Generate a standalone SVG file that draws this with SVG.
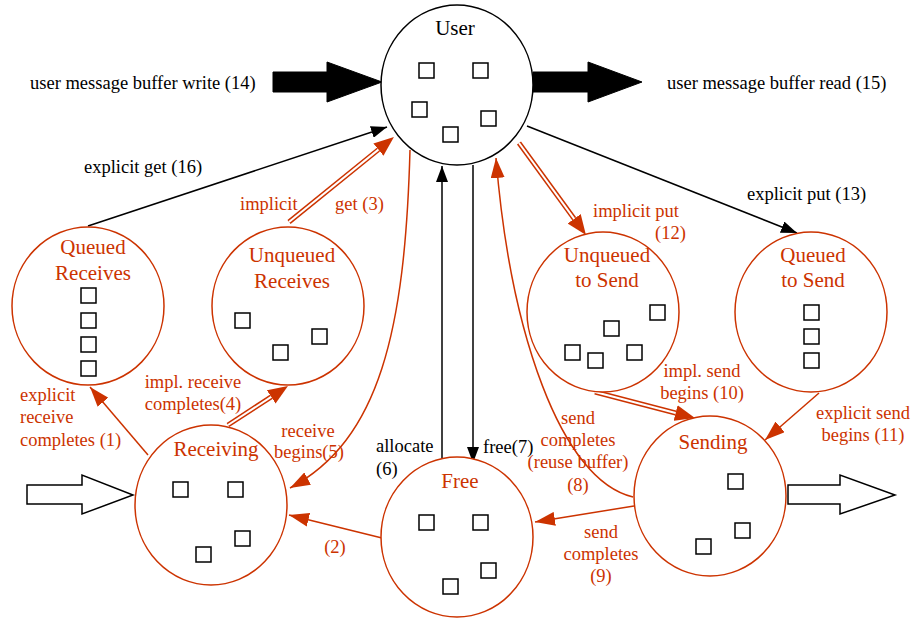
<svg xmlns="http://www.w3.org/2000/svg" width="914" height="619" viewBox="0 0 914 619">
<style>
.bg{fill:#ffffff}
.node{fill:#ffffff;stroke:#cc3300;stroke-width:1.5}
.unode{fill:#ffffff;stroke:#000000;stroke-width:1.5}
.sq{fill:#ffffff;stroke:#000000;stroke-width:1.5}
.nl{font-family:"Liberation Serif","Times New Roman",serif;font-size:21px;fill:#cc3300;text-anchor:middle}
.ul{font-family:"Liberation Serif","Times New Roman",serif;font-size:21px;fill:#000000;text-anchor:middle}
.bt{font-family:"Liberation Serif","Times New Roman",serif;font-size:18.5px;fill:#000000}
.rt{font-family:"Liberation Serif","Times New Roman",serif;font-size:18.5px;fill:#cc3300}
.mid{text-anchor:middle}
.rl{fill:none;stroke:#cc3300;stroke-width:1.5}
.bl{fill:none;stroke:#000000;stroke-width:1.5}
.dbl{fill:none;stroke:#cc3300;stroke-width:5}
.dbw{fill:none;stroke:#ffffff;stroke-width:2}
.big{fill:#000000;stroke:#000000}
.hollow{fill:#ffffff;stroke:#000000;stroke-width:1.5}
</style>
<defs>
<marker id="ra" markerUnits="userSpaceOnUse" markerWidth="20" markerHeight="14" refX="20" refY="7" orient="auto">
<path d="M0,0 L20,7 L0,14 z" fill="#cc3300"/>
</marker>
<marker id="rab" markerUnits="userSpaceOnUse" markerWidth="20" markerHeight="16" refX="0" refY="8" orient="auto">
<path d="M0,0 L20,8 L0,16 z" fill="#cc3300"/>
</marker>
<marker id="ba" markerUnits="userSpaceOnUse" markerWidth="16" markerHeight="12" refX="16" refY="6" orient="auto">
<path d="M0,0 L16,6 L0,12 z" fill="#000000"/>
</marker>
</defs>
<rect class="bg" x="0" y="0" width="914" height="619"/>

<g id="connectors">
<!-- big black arrows -->
<polygon class="big" points="273,72 327,72 327,62 382,82 327,102 327,92 273,92"/>
<polygon class="big" points="533,72 588,72 588,62 642,82 588,102 588,92 533,92"/>
<!-- hollow arrows -->
<polygon class="hollow" points="27,485 82,485 82,475 133,495 82,514 82,504 27,504"/>
<polygon class="hollow" points="788,485 840,485 840,475 895,495 840,514 840,504 788,504"/>
<!-- explicit get (16) -->
<line class="bl" x1="88" y1="226" x2="387" y2="127" marker-end="url(#ba)"/>
<!-- explicit put (13) -->
<line class="bl" x1="527" y1="126" x2="797" y2="233" marker-end="url(#ba)"/>
<!-- allocate (6) -->
<line class="bl" x1="442" y1="458" x2="442" y2="166" marker-end="url(#ba)"/>
<!-- free (7) -->
<line class="bl" x1="473" y1="165" x2="473" y2="463" marker-end="url(#ba)"/>
<!-- implicit get (3) double -->
<line class="dbl" x1="289" y1="222" x2="378.4" y2="149.6" marker-end="url(#rab)"/>
<line class="dbw" x1="289" y1="222" x2="378.4" y2="149.6"/>
<!-- impl receive completes (4) double -->
<line class="dbl" x1="228" y1="425" x2="271.2" y2="396.9" marker-end="url(#rab)"/>
<line class="dbw" x1="228" y1="425" x2="271.2" y2="396.9"/>
<!-- implicit put (12) double -->
<line class="dbl" x1="519" y1="143" x2="574.2" y2="218.8" marker-end="url(#rab)"/>
<line class="dbw" x1="519" y1="143" x2="574.2" y2="218.8"/>
<!-- impl send begins (10) double -->
<line class="dbl" x1="595" y1="392" x2="675.6" y2="413" marker-end="url(#rab)"/>
<line class="dbw" x1="595" y1="392" x2="675.6" y2="413"/>
<!-- explicit receive completes (1) -->
<line class="rl" x1="148" y1="455" x2="90" y2="387" marker-end="url(#ra)"/>
<!-- (2) -->
<line class="rl" x1="382" y1="538" x2="289" y2="515" marker-end="url(#ra)"/>
<!-- send completes (9) -->
<line class="rl" x1="634" y1="506" x2="535" y2="522" marker-end="url(#ra)"/>
<!-- explicit send begins (11) -->
<line class="rl" x1="819" y1="393" x2="765" y2="440" marker-end="url(#ra)"/>
<!-- receive begins (5) -->
<path class="rl" d="M410,150 C405,330 380,440 290,488" marker-end="url(#ra)"/>
<!-- send completes reuse buffer (8) -->
<path class="rl" d="M633,497 C560,480 510,330 496,158" marker-end="url(#ra)"/>
</g>

<g id="user">
<ellipse class="unode" cx="457" cy="85" rx="76" ry="80"/>
<text class="ul" x="455" y="35">User</text>
<rect class="sq" x="419" y="63" width="15" height="15"/>
<rect class="sq" x="473" y="63" width="15" height="15"/>
<rect class="sq" x="412" y="102" width="15" height="15"/>
<rect class="sq" x="481" y="111" width="15" height="15"/>
<rect class="sq" x="443" y="127" width="15" height="15"/>
</g>

<g id="queued-receives">
<ellipse class="node" cx="88" cy="306" rx="76" ry="79"/>
<text class="nl" x="93" y="254">Queued</text>
<text class="nl" x="93" y="280">Receives</text>
<rect class="sq" x="81" y="288" width="15" height="15"/>
<rect class="sq" x="81" y="313" width="15" height="15"/>
<rect class="sq" x="81" y="337" width="15" height="15"/>
<rect class="sq" x="81" y="361" width="15" height="15"/>
</g>

<g id="unqueued-receives">
<ellipse class="node" cx="288" cy="306" rx="76" ry="79"/>
<text class="nl" x="292" y="262">Unqueued</text>
<text class="nl" x="292" y="288">Receives</text>
<rect class="sq" x="235" y="313" width="15" height="15"/>
<rect class="sq" x="273" y="345" width="15" height="15"/>
<rect class="sq" x="312" y="329" width="15" height="15"/>
</g>

<g id="unqueued-to-send">
<ellipse class="node" cx="603" cy="312" rx="76" ry="80"/>
<text class="nl" x="607" y="262">Unqueued</text>
<text class="nl" x="607" y="287">to Send</text>
<rect class="sq" x="650" y="305" width="15" height="15"/>
<rect class="sq" x="604" y="321" width="15" height="15"/>
<rect class="sq" x="565" y="345" width="15" height="15"/>
<rect class="sq" x="588" y="353" width="15" height="15"/>
<rect class="sq" x="627" y="345" width="15" height="15"/>
</g>

<g id="queued-to-send">
<ellipse class="node" cx="811" cy="312" rx="76" ry="80"/>
<text class="nl" x="813" y="262">Queued</text>
<text class="nl" x="813" y="287">to Send</text>
<rect class="sq" x="804" y="305" width="15" height="15"/>
<rect class="sq" x="804" y="329" width="15" height="15"/>
<rect class="sq" x="804" y="353" width="15" height="15"/>
</g>

<g id="receiving">
<ellipse class="node" cx="211" cy="505" rx="76" ry="80"/>
<text class="nl" x="216" y="456">Receiving</text>
<rect class="sq" x="173" y="482" width="15" height="15"/>
<rect class="sq" x="228" y="482" width="15" height="15"/>
<rect class="sq" x="235" y="531" width="15" height="15"/>
<rect class="sq" x="196" y="547" width="15" height="15"/>
</g>

<g id="free">
<ellipse class="node" cx="457" cy="537" rx="76" ry="80"/>
<text class="nl" x="460" y="488">Free</text>
<rect class="sq" x="419" y="515" width="15" height="15"/>
<rect class="sq" x="473" y="515" width="15" height="15"/>
<rect class="sq" x="481" y="563" width="15" height="15"/>
<rect class="sq" x="443" y="579" width="15" height="15"/>
</g>

<g id="sending">
<ellipse class="node" cx="710" cy="496" rx="76" ry="80"/>
<text class="nl" x="713" y="449">Sending</text>
<rect class="sq" x="728" y="474" width="15" height="15"/>
<rect class="sq" x="735" y="523" width="15" height="15"/>
<rect class="sq" x="696" y="539" width="15" height="15"/>
</g>

<g id="labels">
<text class="bt" x="30" y="89">user message buffer write (14)</text>
<text class="bt" x="667" y="89">user message buffer read (15)</text>
<text class="bt" x="84" y="173">explicit get (16)</text>
<text class="bt" x="747" y="200">explicit put (13)</text>
<text class="bt" x="376" y="452">allocate</text>
<text class="bt" x="376" y="475">(6)</text>
<text class="bt" x="483" y="453">free(7)</text>
<text class="rt" x="240" y="210">implicit</text>
<text class="rt" x="335" y="210">get (3)</text>
<text class="rt" x="593" y="217">implicit put</text>
<text class="rt" x="655" y="239">(12)</text>
<text class="rt mid" x="193" y="388">impl. receive</text>
<text class="rt mid" x="193" y="410">completes(4)</text>
<text class="rt" x="20" y="401">explicit</text>
<text class="rt" x="20" y="423">receive</text>
<text class="rt" x="20" y="446">completes (1)</text>
<text class="rt mid" x="308" y="437">receive</text>
<text class="rt mid" x="309" y="458">begins(5)</text>
<text class="rt mid" x="335" y="553">(2)</text>
<text class="rt mid" x="578" y="424">send</text>
<text class="rt mid" x="578" y="446">completes</text>
<text class="rt mid" x="578" y="468">(reuse buffer)</text>
<text class="rt mid" x="578" y="491">(8)</text>
<text class="rt mid" x="601" y="538">send</text>
<text class="rt mid" x="601" y="560">completes</text>
<text class="rt mid" x="601" y="582">(9)</text>
<text class="rt mid" x="702" y="377">impl. send</text>
<text class="rt mid" x="702" y="399">begins (10)</text>
<text class="rt mid" x="863" y="419">explicit send</text>
<text class="rt mid" x="863" y="441">begins (11)</text>
</g>
</svg>
